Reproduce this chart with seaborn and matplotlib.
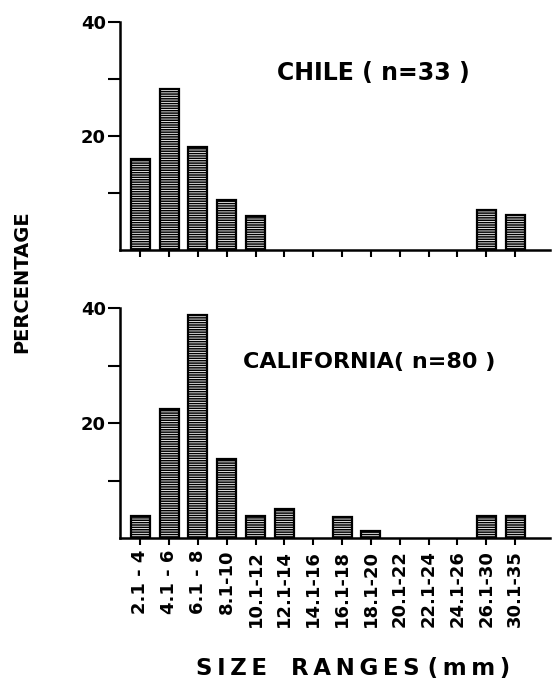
import numpy as np
import pandas as pd
import matplotlib
matplotlib.use("Agg")
import matplotlib.pyplot as plt
import seaborn as sns

# Size classes (mm) and percentage frequencies
size_ranges = ['2.1 - 4', '4.1 - 6', '6.1 - 8', '8.1-10', '10.1-12', '12.1-14', '14.1-16',
               '16.1-18', '18.1-20', '20.1-22', '22.1-24', '24.1-26', '26.1-30', '30.1-35']
chile = [16.0, 28.2, 18.1, 8.8, 6.0, 0, 0, 0, 0, 0, 0, 0, 7.1, 6.2]
california = [3.75, 22.5, 38.75, 13.75, 3.9, 5.0, 0, 3.6, 1.2, 0, 0, 0, 3.75, 3.75]

sns.set_style("ticks", {'axes.edgecolor': 'black', 'text.color': 'black',
                        'xtick.color': 'black', 'ytick.color': 'black',
                        'axes.labelcolor': 'black'})
plt.rcParams['font.family'] = ['DejaVu Sans']
plt.rcParams['font.weight'] = 'bold'
plt.rcParams['hatch.linewidth'] = 1.1
plt.rcParams['hatch.color'] = 'black'

TS = '\u2009'  # thin space for letter spacing


def spaced(s):
    return TS.join(s)


fig = plt.figure(figsize=(5.52, 6.86), dpi=100)
ax1 = fig.add_axes([0.2174, 0.6356, 0.7786, 0.3324])
ax2 = fig.add_axes([0.2174, 0.2157, 0.7786, 0.3353])

panels = [(ax1, chile, 'CHILE ( n=33 )', (0.59, 0.775), 17),
          (ax2, california, 'CALIFORNIA( n=80 )', (0.58, 0.765), 16)]

for ax, vals, title, pos, fs in panels:
    df = pd.DataFrame({'Size': size_ranges, 'Pct': vals})
    df['Pct'] = df['Pct'].replace(0, np.nan)  # empty classes: no bar outline
    sns.barplot(x='Size', y='Pct', data=df, order=size_ranges, ax=ax, color='white',
                edgecolor='black', linewidth=1.6, width=0.66, hatch='-------')
    ax.set_xlim(-0.7, 14.2)
    ax.set_ylim(0, 40)
    ax.set_yticks([20, 40])
    ax.set_yticks([10, 30], minor=True)
    ax.tick_params(axis='y', which='both', direction='out', length=9, width=1.5,
                   labelsize=13, pad=1)
    ax.tick_params(axis='x', direction='out', length=5, width=1.5)
    sns.despine(ax=ax)
    ax.spines['left'].set_linewidth(1.8)
    ax.spines['bottom'].set_linewidth(1.8)
    ax.set_xlabel('')
    ax.set_ylabel('')
    ax.text(pos[0], pos[1], title, transform=ax.transAxes, ha='center', va='center',
            fontsize=fs, fontweight='bold')

ax1.set_xticklabels([])
ax2.set_xticks(range(len(size_ranges)))
ax2.set_xticklabels(size_ranges, rotation=90, fontsize=13, fontweight='bold')

fig.text(0.64, 0.026, spaced('SIZE') + '   ' + spaced('RANGES') + ' ' + spaced('(mm)'),
         ha='center', va='center', fontsize=16.5, fontweight='bold')
fig.text(0.04, 0.589, 'PERCENTAGE', ha='center', va='center', rotation=90,
         fontsize=14, fontweight='bold')

plt.savefig('out.png', dpi=100)
